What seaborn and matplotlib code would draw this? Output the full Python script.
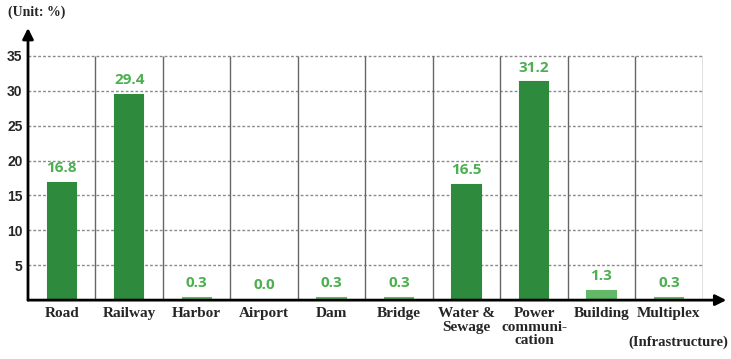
import numpy as np
import pandas as pd
import seaborn as sns
import matplotlib.pyplot as plt

# values (unit: %)
categories = ["Road", "Railway", "Harbor", "Airport", "Dam", "Bridge",
              "Water &\nSewage", "Power\ncommuni-\ncation", "Building", "Multiplex"]
values = [16.8, 29.4, 0.3, 0.0, 0.3, 0.3, 16.5, 31.2, 1.3, 0.3]
y_ticks = [5, 10, 15, 20, 25, 30, 35]

dark_green = "#2e8b3e"
light_green = "#62b866"
label_green = "#4caf50"

sns.set_theme(style="white")
plt.rcParams["font.family"] = ["DejaVu Sans"]

df = pd.DataFrame({"cat": categories, "val": values})
bar_colors = [dark_green if v >= 5 else light_green for v in values]

fig = plt.figure(figsize=(7.31, 3.59), dpi=100)
ax = fig.add_axes([0.0383, 0.164, 0.923, 0.758])

sns.barplot(data=df, x="cat", y="val", hue="cat", palette=bar_colors,
            legend=False, width=0.42, saturation=1, ax=ax, zorder=3)
# thin bars get an outline so they stay visible above the axis line
for patch, c in zip(ax.patches, bar_colors):
    if patch.get_height() > 0:
        patch.set_edgecolor(c)
        patch.set_linewidth(1.5)

ax.set_xlim(-0.5, 9.5)
ax.set_ylim(0, 39)

# grid: dotted horizontals, solid vertical separators
ax.hlines(y_ticks, -0.5, 9.5, colors="#8a8a8a", linestyles=(0, (2, 1.5)), lw=1, zorder=1)
ax.vlines(np.arange(0.5, 10, 1), 0, 35, colors="#666666", lw=1, zorder=1)

# value labels
for i, v in enumerate(values):
    ax.text(i, v + 1.1, f"{v:.1f}", ha="center", va="bottom", color=label_green,
            fontsize=11, fontweight="bold", family="Open Sans")

for s in ax.spines.values():
    s.set_visible(False)

# arrowed axes
arrow = dict(arrowstyle="-|>", lw=2, color="black", mutation_scale=16, shrinkA=0, shrinkB=0)
ax.annotate("", xy=(0, 1.0), xytext=(0, 0), xycoords="axes fraction",
            textcoords="axes fraction", arrowprops=arrow, annotation_clip=False)
ax.annotate("", xy=(1.035, 0), xytext=(0, 0), xycoords="axes fraction",
            textcoords="axes fraction", arrowprops=arrow, annotation_clip=False)

ax.set_yticks(y_ticks)
ax.set_yticklabels([str(t) for t in y_ticks], fontsize=10, fontweight="bold",
                   family="Liberation Sans")
ax.tick_params(axis="y", length=0, pad=4)
ax.tick_params(axis="x", length=0, pad=5)
ax.set_xticks(range(len(categories)))
ax.set_xticklabels(categories, fontsize=11, fontweight="bold", family="Liberation Serif",
                   linespacing=1.05, va="top")
ax.set_xlabel("")
ax.set_ylabel("")

ax.text(8.4, -0.13, "(Infrastructure)", transform=ax.get_xaxis_transform(),
        ha="left", va="top", fontsize=10.5, fontweight="bold", family="Liberation Serif",
        clip_on=False)

fig.text(0.011, 0.965, "(Unit: %)", ha="left", va="center", fontsize=10,
         fontweight="bold", family="Liberation Serif")

fig.savefig("out.png", dpi=100)
